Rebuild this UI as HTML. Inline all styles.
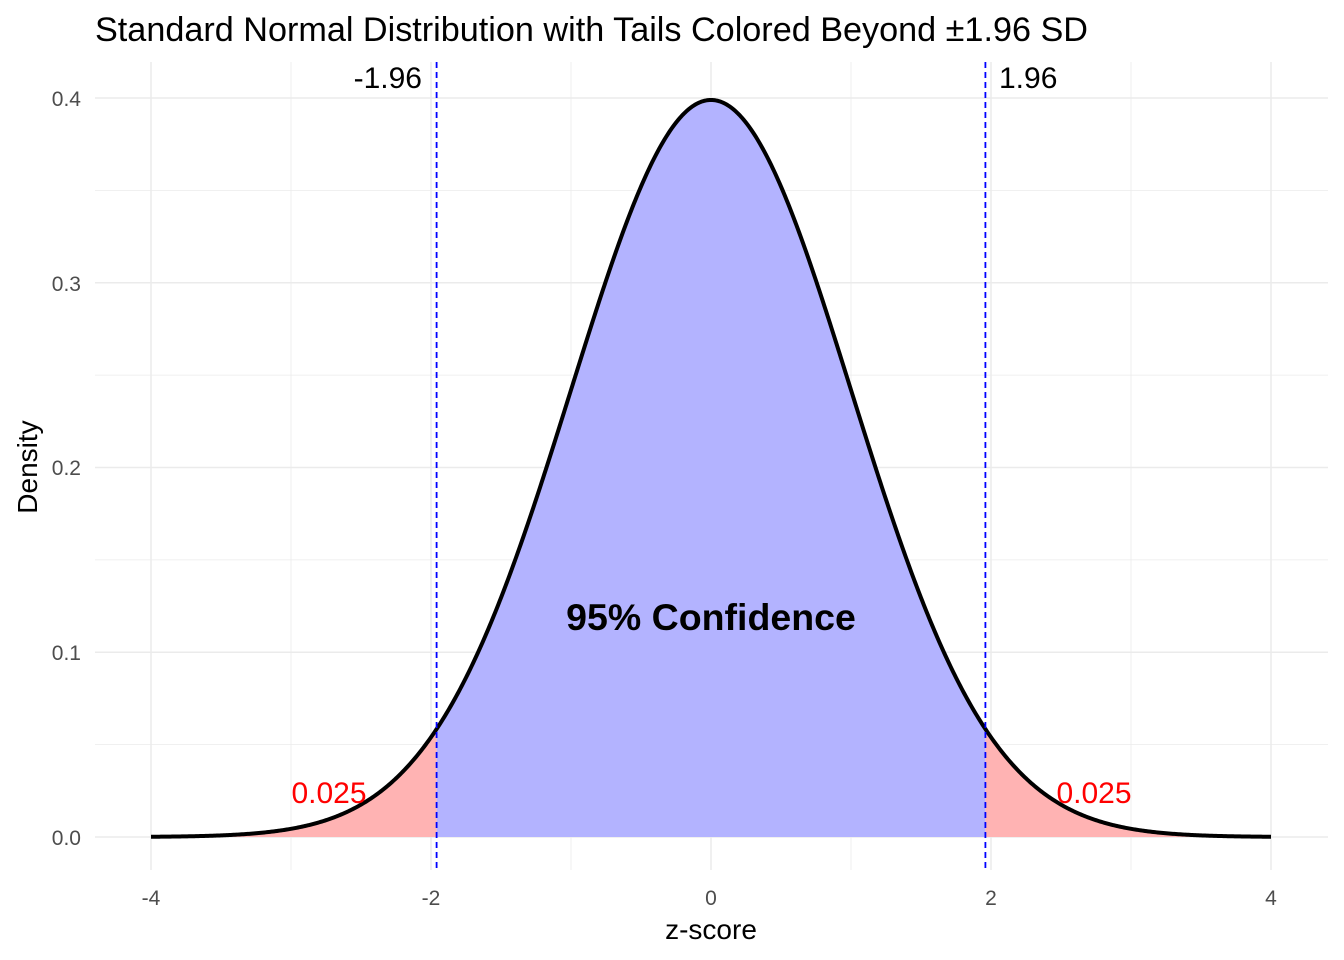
<!DOCTYPE html>
<html><head><meta charset="utf-8"><style>
body{margin:0;background:#fff}
svg{display:block;font-family:"Liberation Sans",Arial,sans-serif}
</style></head><body>
<svg id="s" width="1344" height="960" xmlns="http://www.w3.org/2000/svg">
<rect width="1344" height="960" fill="#fff"/>
<g id="grid"></g>
<path id="blue" fill="#b3b3ff" stroke="none"/>
<path id="redL" fill="#ffb3b3"/>
<path id="redR" fill="#ffb3b3"/>
<path id="curve" fill="none" stroke="#000" stroke-width="4" stroke-linejoin="round"/>
<line x1="436.6" y1="62" x2="436.6" y2="870" stroke="#0000ff" stroke-width="1.8" stroke-dasharray="6,4"/>
<line x1="985.4" y1="62" x2="985.4" y2="870" stroke="#0000ff" stroke-width="1.8" stroke-dasharray="6,4"/>
<text x="95" y="41" font-size="34.2" fill="#000">Standard Normal Distribution with Tails Colored Beyond ±1.96 SD</text>
<text x="422" y="88" font-size="30" text-anchor="end">-1.96</text>
<text x="999" y="88" font-size="30">1.96</text>
<text x="711" y="630" font-size="37.5" font-weight="bold" text-anchor="middle">95% Confidence</text>
<text x="329" y="803" font-size="30" fill="#ff0000" text-anchor="middle">0.025</text>
<text x="1094" y="803" font-size="30" fill="#ff0000" text-anchor="middle">0.025</text>
<g font-size="21" fill="#4d4d4d">
<text x="81" y="845" text-anchor="end">0.0</text>
<text x="81" y="660" text-anchor="end">0.1</text>
<text x="81" y="475" text-anchor="end">0.2</text>
<text x="81" y="291" text-anchor="end">0.3</text>
<text x="81" y="106" text-anchor="end">0.4</text>
<text x="151" y="905" text-anchor="middle">-4</text>
<text x="431" y="905" text-anchor="middle">-2</text>
<text x="711" y="905" text-anchor="middle">0</text>
<text x="991" y="905" text-anchor="middle">2</text>
<text x="1271" y="905" text-anchor="middle">4</text>
</g>
<text x="711" y="939" font-size="28" text-anchor="middle">z-score</text>
<text transform="translate(37,467) rotate(-90)" font-size="28" text-anchor="middle">Density</text>
</svg>
<script>
var X=function(z){return 711+140*z},Y=function(d){return 837-1847.5*d};
var f=function(z){return Math.exp(-z*z/2)/Math.sqrt(2*Math.PI)};
var g='';
[-3,-1,1,3].forEach(function(z){g+='<line x1="'+X(z)+'" y1="62" x2="'+X(z)+'" y2="870" stroke="#ebebeb" stroke-width="0.8"/>'});
[0.05,0.15,0.25,0.35].forEach(function(d){g+='<line x1="95" y1="'+Y(d)+'" x2="1328" y2="'+Y(d)+'" stroke="#ebebeb" stroke-width="0.8"/>'});
[-4,-2,0,2,4].forEach(function(z){g+='<line x1="'+X(z)+'" y1="62" x2="'+X(z)+'" y2="870" stroke="#ebebeb" stroke-width="1.5"/>'});
[0,0.1,0.2,0.3,0.4].forEach(function(d){g+='<line x1="95" y1="'+Y(d)+'" x2="1328" y2="'+Y(d)+'" stroke="#ebebeb" stroke-width="1.5"/>'});
document.getElementById('grid').innerHTML=g;
function area(a,b){var p='M'+X(a)+','+Y(0);for(var z=a;z<=b+1e-9;z+=0.01)p+='L'+X(z).toFixed(2)+','+Y(f(z)).toFixed(2);p+='L'+X(b)+','+Y(f(b))+'L'+X(b)+','+Y(0)+'Z';return p}
document.getElementById('blue').setAttribute('d',area(-1.96,1.96));
document.getElementById('redL').setAttribute('d',area(-4,-1.96));
document.getElementById('redR').setAttribute('d',area(1.96,4));
var c='';for(var z=-4;z<=4.0001;z+=0.01)c+=(c?'L':'M')+X(z).toFixed(2)+','+Y(f(z)).toFixed(2);
document.getElementById('curve').setAttribute('d',c);
</script>
</body></html>
